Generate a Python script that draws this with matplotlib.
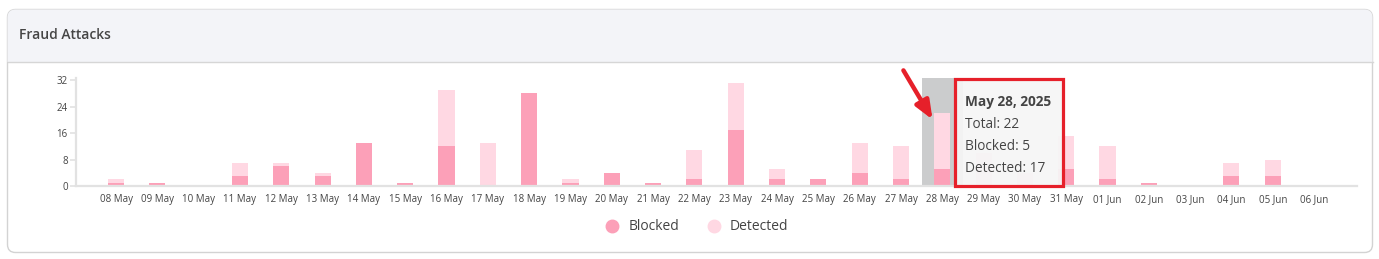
import matplotlib.pyplot as plt
import numpy as np
from matplotlib.patches import FancyBboxPatch, Rectangle
from matplotlib.lines import Line2D

plt.rcParams['font.family'] = ['Open Sans', 'DejaVu Sans']

days = ["08 May", "09 May", "10 May", "11 May", "12 May", "13 May", "14 May",
        "15 May", "16 May", "17 May", "18 May", "19 May", "20 May", "21 May",
        "22 May", "23 May", "24 May", "25 May", "26 May", "27 May", "28 May",
        "29 May", "30 May", "31 May", "01 Jun", "02 Jun", "03 Jun", "04 Jun",
        "05 Jun", "06 Jun"]
blocked = [1, 1, 0, 3, 6, 3, 13, 1, 12, 0, 28, 1, 4, 1, 2, 17, 2, 2, 4, 2,
           5, 0, 0, 5, 2, 1, 0, 3, 3, 0]
detected = [1, 0, 0, 4, 1, 1, 0, 0, 17, 13, 0, 1, 0, 0, 9, 14, 3, 0, 9, 10,
            17, 10, 4, 10, 10, 0, 0, 4, 5, 0]
series_names = ["Blocked", "Detected"]
series_colors = ["#fca0b8", "#ffd8e3"]
hover_idx = 20
hover_title = "May 28, 2025"

W, H = 1379, 259
fig = plt.figure(figsize=(W / 100, H / 100), dpi=100)

# card background (pixel coordinates)
bg = fig.add_axes([0, 0, 1, 1], zorder=0)
bg.set_xlim(0, W)
bg.set_ylim(H, 0)
bg.axis('off')
card = FancyBboxPatch((7.5, 9.5), 1365, 243, boxstyle="round,pad=0,rounding_size=8",
                      facecolor="white", edgecolor="#d3d3d3", linewidth=1.0)
bg.add_patch(card)
header = Rectangle((7, 9), 1366, 53, facecolor="#f3f4f8", edgecolor="none")
bg.add_patch(header)
header.set_clip_path(card)
bg.plot([7.5, 1372.5], [62, 62], color="#d6d6d6", lw=1.0)
bg.text(19, 35, "Fraud Attacks", fontsize=10, fontweight='semibold',
        color="#454545", va='center', ha='left')

# chart
ax = fig.add_axes([76 / W, 1 - 186 / H, (1357 - 76) / W, (186 - 77.5) / H], zorder=1)
ax.set_facecolor('none')
x = np.arange(len(days))
bw = 0.39
ax.axvspan(hover_idx - 0.5, hover_idx + 0.5, color="#cbcccd", zorder=0, lw=0)
ax.bar(x, blocked, width=bw, color=series_colors[0], zorder=2)
ax.bar(x, detected, width=bw, bottom=blocked, color=series_colors[1], zorder=2)
ax.set_xlim(-0.97, len(days) - 1 + 1.04)
ax.set_ylim(0, 32.8)
ax.set_yticks([0, 8, 16, 24, 32])
ax.set_xticks(x)
ax.set_xticklabels(days)
for s in ['top', 'right']:
    ax.spines[s].set_visible(False)
for s in ['left', 'bottom']:
    ax.spines[s].set_color("#e2e2e2")
    ax.spines[s].set_linewidth(1.6)
ax.tick_params(axis='y', length=4, width=1.2, color="#e2e2e2", labelsize=7,
               labelcolor="#444444", pad=2)
ax.tick_params(axis='x', length=0, labelsize=7, labelcolor="#444444", pad=6)

# legend
handles = [Line2D([], [], marker='o', linestyle='none', markersize=9,
                  markerfacecolor=c, markeredgecolor=c) for c in series_colors]
fig.legend(handles, series_names, loc='center', bbox_to_anchor=(696 / W, 1 - 227 / H),
           ncol=2, frameon=False, fontsize=10, handletextpad=0.55, columnspacing=1.9,
           handlelength=1.2, labelcolor="#444444")

# tooltip + arrow overlay
ov = fig.add_axes([0, 0, 1, 1], zorder=5)
ov.set_xlim(0, W)
ov.set_ylim(H, 0)
ov.axis('off')
ov.set_facecolor('none')
ov.add_patch(Rectangle((955, 79), 108, 107, facecolor="#f6f6f6", alpha=0.93,
                       edgecolor="none"))
ov.add_patch(Rectangle((955, 79), 108, 107, facecolor="none", edgecolor="#e6202a",
                       linewidth=2.3))
tot = blocked[hover_idx] + detected[hover_idx]
fs = 9.8
ov.text(965, 102, hover_title, fontsize=fs, fontweight='bold', color="#444444",
        va='center')
ov.text(965, 124, "Total: %d" % tot, fontsize=fs, color="#444444", va='center')
ov.text(965, 146, "Blocked: %d" % blocked[hover_idx], fontsize=fs, color="#444444",
        va='center')
ov.text(965, 168, "Detected: %d" % detected[hover_idx], fontsize=fs, color="#444444",
        va='center')
ov.annotate("", xy=(934, 122), xytext=(902, 68),
            arrowprops=dict(arrowstyle="-|>,head_length=1.1,head_width=0.45",
                            color="#e6202a", lw=3.2))

fig.savefig("out.png", dpi=100)
